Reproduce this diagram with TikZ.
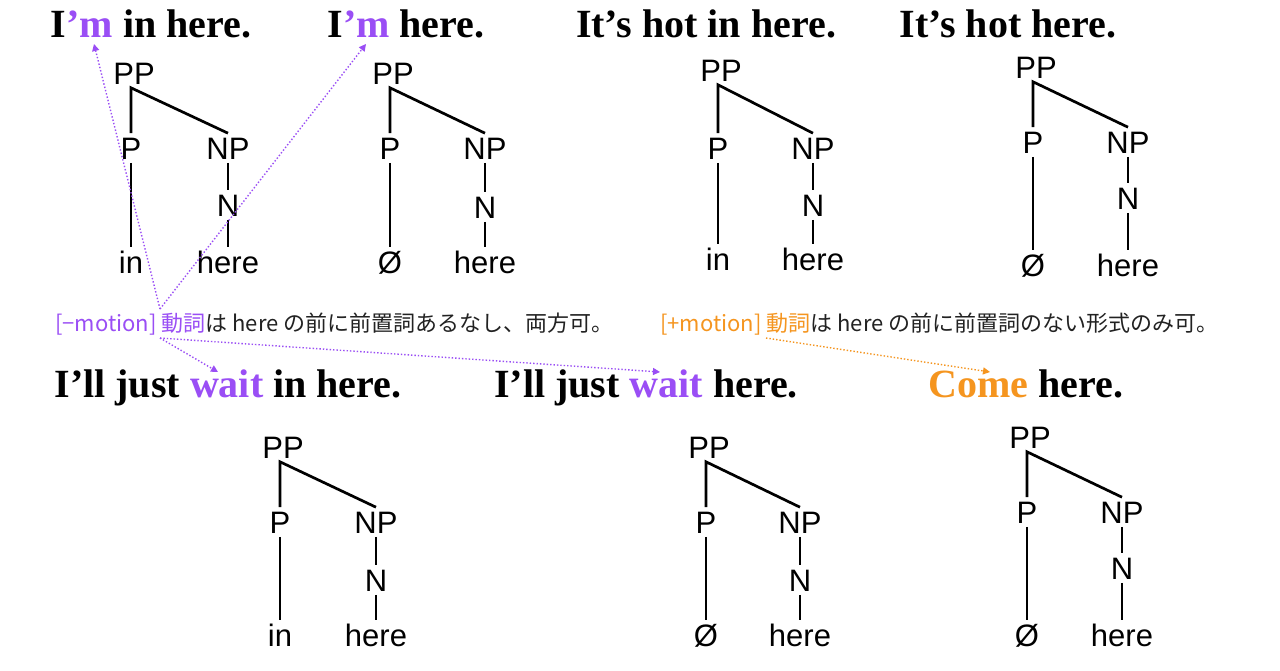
\documentclass[tikz,border=0pt]{standalone}
\usepackage{fontspec}
\setmainfont{Liberation Serif}
\setsansfont{Liberation Sans}
\newfontfamily\jp{Noto Sans CJK JP}
\usetikzlibrary{arrows.meta}
\definecolor{vio}{HTML}{9A4EF5}
\definecolor{org}{HTML}{F5951F}
\definecolor{txt}{HTML}{222222}
\tikzset{
  title/.style={font=\bfseries\fontsize{40}{42}\selectfont, anchor=base, inner sep=0pt},
  tlab/.style={font=\sffamily\fontsize{31}{31}\selectfont, inner xsep=1pt, inner ysep=3.5pt, text height=22.2pt, text depth=0pt},
  branch/.style={line width=2.7pt, black},
  note/.style={font=\jp\fontsize{22}{24}\selectfont, anchor=base west, inner sep=0pt, text=txt},
  ptr/.style={line width=1.4pt, dotted, -{Triangle[length=7pt,width=7pt]}},
}
\newcommand{\mytree}[9]{%
  % #1 prefix, #2 xP, #3 xNP, #4 yPP, #5 yP, #6 yN, #7 yLeaf, #8 left leaf, #9 right leaf
  \node[tlab, xshift=3pt] (#1pp) at (#2,#4) {PP};
  \node[tlab] (#1p) at (#2,#5) {P};
  \node[tlab] (#1np) at (#3,#5) {NP};
  \node[tlab] (#1n) at (#3,#6) {N};
  \node[tlab] (#1l) at (#2,#7) {#8};
  \node[tlab] (#1r) at (#3,#7) {#9};
  \coordinate (#1apex) at ([xshift=-3pt]#1pp.south);
  \draw[branch] (#1p.north) -- (#1apex) -- (#1np.north);
  \draw[branch] (#1p.south) -- (#1l.north);
  \draw[branch] (#1np.south) -- (#1n.north);
  \draw[branch] (#1n.south) -- (#1r.north);
}
\begin{document}
\begin{tikzpicture}[x=1pt,y=-1pt]
\useasboundingbox[fill=white] (0,0) rectangle (1280,670);
% titles
\node[title] (t1) at (151,37) {I\textcolor{vio}{’m} in here.};
\node[title] (t2) at (406,37) {I\textcolor{vio}{’m} here.};
\node[title] (t3) at (706,37) {It’s hot in here.};
\node[title] (t4) at (1008,37) {It’s hot here.};
\node[title] (t5) at (228,397) {I’ll just \textcolor{vio}{wait} in here.};
\node[title] (t6) at (646,397) {I’ll just \textcolor{vio}{wait} here.};
\node[title] (t7) at (1026,397) {\textcolor{org}{Come} here.};
% trees
\mytree{a}{131}{228}{73}{148}{205}{262}{in}{here}
\mytree{b}{390}{485}{73}{148}{207}{262}{Ø}{here}
\mytree{c}{718}{813}{70}{148}{205}{259}{in}{here}
\mytree{d}{1033}{1128}{67}{142}{198}{265}{Ø}{here}
\mytree{e}{280}{376}{447}{522}{580}{635}{in}{here}
\mytree{f}{706}{800}{447}{522}{580}{635}{Ø}{here}
\mytree{g}{1027}{1122}{437}{512}{568}{635}{Ø}{here}
% notes
\node[note] (n1) at (55,331) {\textcolor{vio}{[−motion] 動詞}は here の前に前置詞あるなし、両方可。};
\node[note] (n2) at (660,331) {\textcolor{org}{[+motion] 動詞}は here の前に前置詞のない形式のみ可。};
% pointer anchors
\coordinate (s1) at (160,309);
\coordinate (s2) at (160,338);
\coordinate (s3) at (766,338);
\coordinate (h1) at (94,44);
\coordinate (h2) at (366,44);
\coordinate (h3) at (218,372);
\coordinate (h4) at (660,372);
\coordinate (h5) at (990,372);
\draw[ptr, vio] (s1) -- (h1);
\draw[ptr, vio] (s1) -- (h2);
\draw[ptr, vio] (s2) -- (h3);
\draw[ptr, vio] (s2) -- (h4);
\draw[ptr, org] (s3) -- (h5);
\end{tikzpicture}
\end{document}
